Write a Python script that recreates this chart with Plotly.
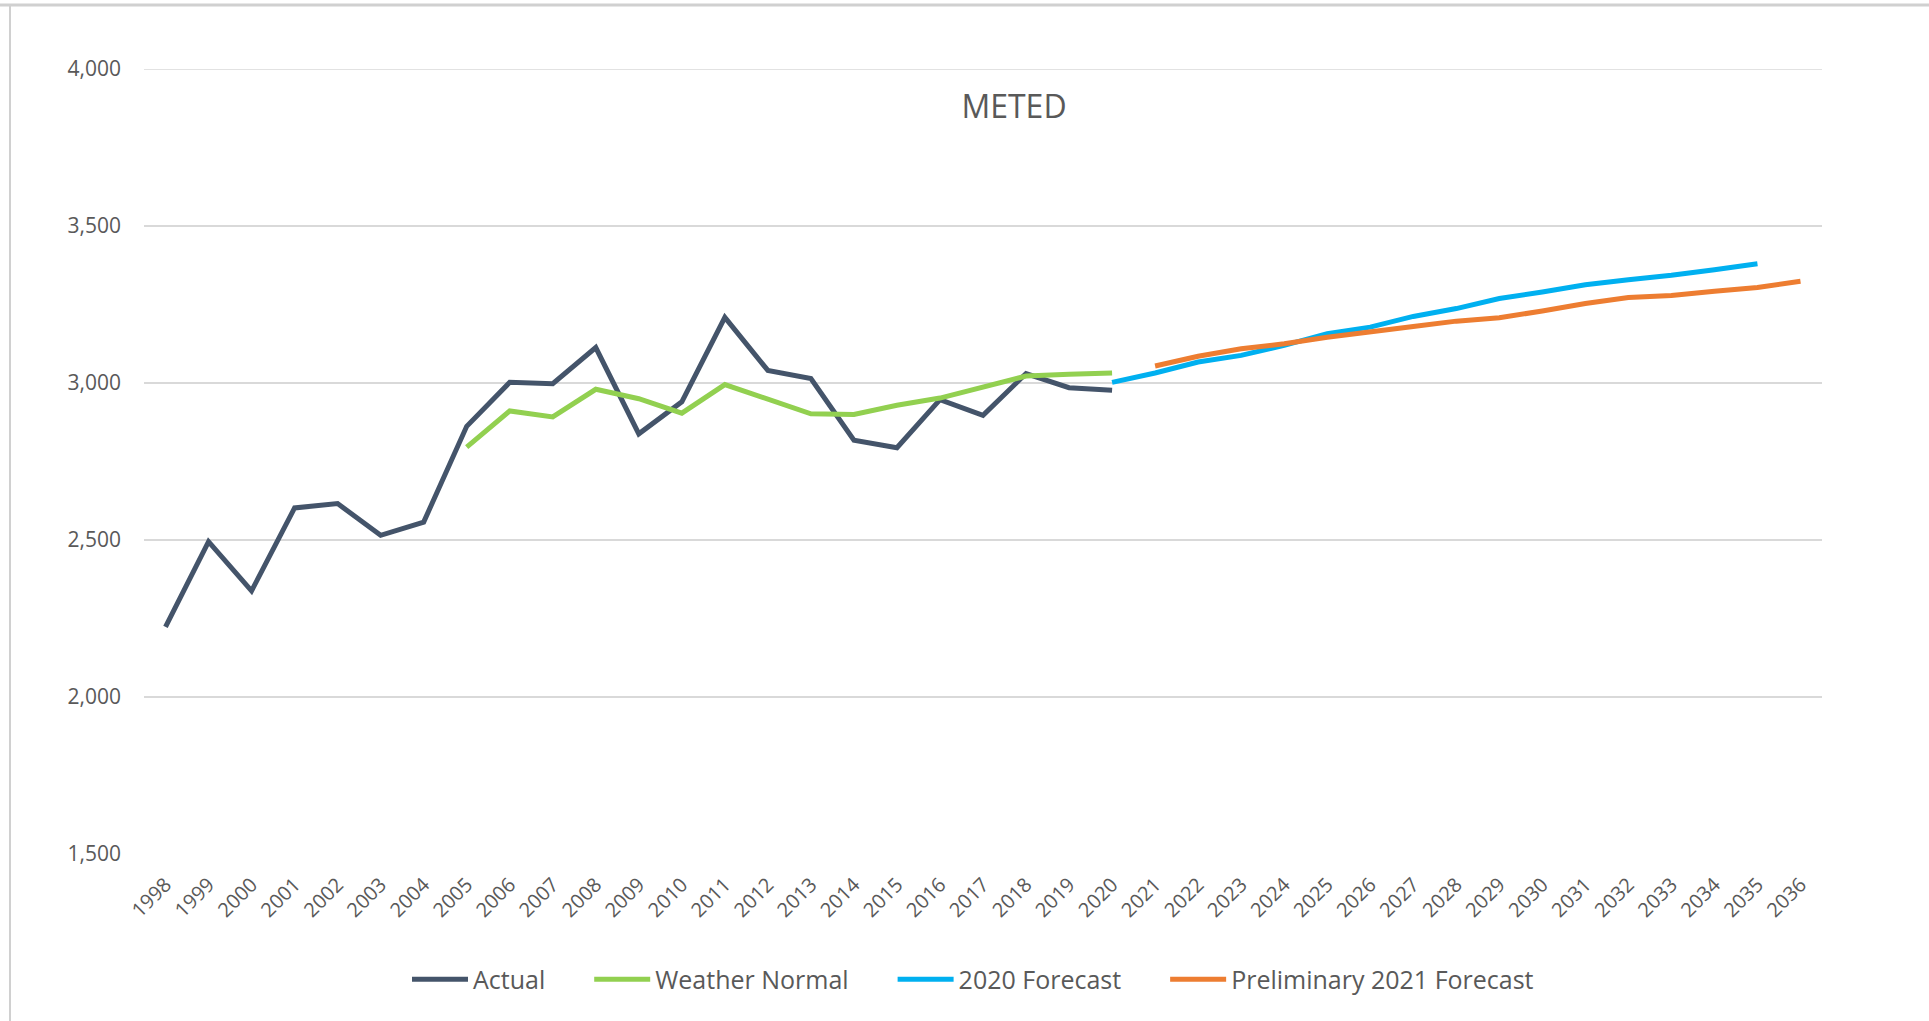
import plotly.graph_objects as go

years = [str(y) for y in range(1998, 2037)]

actual_years = [str(y) for y in range(1998, 2021)]
actual = [2223, 2495, 2338, 2602, 2616, 2515, 2557, 2862, 3002, 2998, 3113,
          2838, 2940, 3209, 3040, 3014, 2818, 2794, 2947, 2897, 3030, 2985, 2977]

wn_years = [str(y) for y in range(2005, 2021)]
weather_normal = [2796, 2911, 2892, 2980, 2950, 2904, 2995, 2948, 2902, 2900,
                  2929, 2952, 2989, 3022, 3028, 3032]

f2020_years = [str(y) for y in range(2020, 2036)]
forecast_2020 = [3002, 3032, 3067, 3088, 3120, 3157, 3178, 3212, 3237, 3269,
                 3290, 3313, 3329, 3343, 3361, 3380]

f2021_years = [str(y) for y in range(2021, 2037)]
forecast_2021 = [3054, 3085, 3109, 3125, 3146, 3165, 3180, 3197, 3208, 3229,
                 3253, 3272, 3279, 3292, 3304, 3324]

y_ticks = [1500, 2000, 2500, 3000, 3500, 4000]

FONT = "Open Sans"
GRAY = "#595959"
PAD = "\u00a0" * 6

fig = go.Figure()
series = [
    ("Actual", actual_years, actual, "#44546A"),
    ("Weather Normal", wn_years, weather_normal, "#92D050"),
    ("2020 Forecast", f2020_years, forecast_2020, "#00B0F0"),
    ("Preliminary 2021 Forecast", f2021_years, forecast_2021, "#ED7D31"),
]
for i, (name, xs, ys, col) in enumerate(series):
    fig.add_trace(go.Scatter(
        x=xs, y=ys, name=name + (PAD if i < len(series) - 1 else ""),
        mode="lines", line=dict(color=col, width=5, shape="linear"),
    ))

PW, PH = 1678, 785  # plot area size in px

fig.update_layout(
    width=1929, height=1021,
    margin=dict(l=144, r=107, t=69, b=167, autoexpand=False),
    paper_bgcolor="white", plot_bgcolor="white",
    font=dict(family=FONT, color=GRAY, size=19),
    title=dict(text="METED", x=(1014 - 144) / PW, xref="paper",
               xanchor="center", y=1 - 107 / 1021, yanchor="middle",
               font=dict(family=FONT, size=32, color=GRAY)),
    showlegend=True,
    legend=dict(orientation="h", x=0.5 - 10 / PW, xanchor="center", y=-0.16,
                yanchor="middle", font=dict(family=FONT, size=25, color=GRAY),
                itemwidth=56, tracegroupgap=0, bgcolor="rgba(0,0,0,0)"),
    xaxis=dict(type="category", categoryorder="array", categoryarray=years,
               range=[-0.5, len(years) - 0.5], tickangle=-45,
               showgrid=False, zeroline=False, showline=False,
               ticks="", ticklabelstandoff=14,
               tickfont=dict(family=FONT, size=20, color=GRAY)),
    yaxis=dict(range=[1500, 4000], tickvals=y_ticks,
               ticktext=[f"{v:,}" for v in y_ticks],
               showgrid=True, gridcolor="#D9D9D9", gridwidth=1.5,
               zeroline=False, showline=False, ticks="",
               ticklabelstandoff=22,
               tickfont=dict(family=FONT, size=21, color=GRAY)),
)

# top gridline at 4,000 (edge of range)
fig.add_shape(type="line", xref="paper", yref="y", x0=0, x1=1,
              y0=4000, y1=4000, line=dict(color="#D9D9D9", width=1.5),
              layer="below")

# outer frame lines of the screenshot
fig.add_shape(type="line", xref="paper", yref="paper",
              x0=-144 / PW, x1=1.2, y0=1 + 64 / PH, y1=1 + 64 / PH,
              line=dict(color="#D0D0D0", width=3))
fig.add_shape(type="line", xref="paper", yref="paper",
              x0=-134 / PW, x1=-134 / PW, y0=-0.3, y1=1 + 64 / PH,
              line=dict(color="#D0D0D0", width=2))

fig.write_html("out.html", config={"displayModeBar": False},
               post_script="document.body.style.margin='0';")
